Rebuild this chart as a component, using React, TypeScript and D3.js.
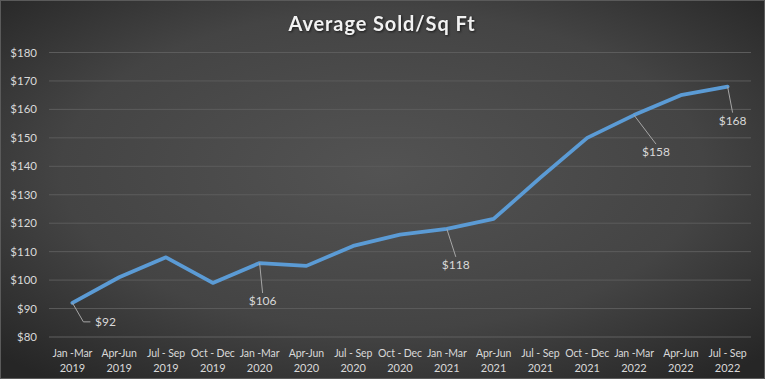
import React from "react";
import * as d3 from "d3";

const quarters = ["Jan -Mar", "Apr-Jun", "Jul - Sep", "Oct - Dec", "Jan -Mar", "Apr-Jun", "Jul - Sep", "Oct - Dec", "Jan -Mar", "Apr-Jun", "Jul - Sep", "Oct - Dec", "Jan -Mar", "Apr-Jun", "Jul - Sep"];
const years = ["2019", "2019", "2019", "2019", "2020", "2020", "2020", "2020", "2021", "2021", "2021", "2021", "2022", "2022", "2022"];
const values = [92, 101, 108, 99, 106, 105, 112, 116, 118, 121.5, 136, 150, 158, 165, 168];
const yTicks = [80, 90, 100, 110, 120, 130, 140, 150, 160, 170, 180];
const labeledIdx = [0, 4, 8, 12, 14];

// label placement (styling): offsets of label anchor from point
const labelOffsets: Record<number, [number, number]> = {
  0: [33, 19],
  4: [3, 38],
  8: [9, 36],
  12: [22, 37],
  14: [5, 34],
};

const W = 765;
const H = 379;
const left = 49;
const right = 751;
const top = 52.5;
const bottom = 337;

export default function App() {
  const x = d3.scaleBand<number>().domain(d3.range(values.length)).range([left, right]);
  const y = d3.scaleLinear().domain([80, 180]).range([bottom, top]);
  const cx = (i: number) => (x(i) as number) + x.bandwidth() / 2;
  const line = d3.line<number>().x((_, i) => cx(i)).y((d) => y(d));
  const font = "Lato, 'Open Sans', sans-serif";
  const txt = "#d9d9d9";

  return (
    <svg width={W} height={H} style={{ position: "absolute", left: 0, top: 0, display: "block" }} fontFamily={font}>
      <defs>
        <radialGradient id="bg" cx="50%" cy="45%" r="70%">
          <stop offset="0%" stopColor="#535353" />
          <stop offset="60%" stopColor="#444444" />
          <stop offset="100%" stopColor="#262626" />
        </radialGradient>
      </defs>
      <rect x={0} y={0} width={W} height={H} fill="url(#bg)" />
      <rect x={0.5} y={0.5} width={W - 1} height={H - 1} fill="none" stroke="#5a5a5a" strokeWidth={1} />
      <text x={382} y={31} textAnchor="middle" fill="#f2f2f2" fontSize={20} fontWeight={700} letterSpacing={0.9}
        style={{ filter: "drop-shadow(1px 1px 1px rgba(0,0,0,0.6))" }}>
        Average Sold/Sq Ft
      </text>
      {yTicks.map((t) => (
        <g key={t}>
          <line x1={left} x2={right} y1={y(t)} y2={y(t)} stroke={t === 80 ? "#606060" : "#5c5c5c"} strokeWidth={1} />
          <text x={37} y={y(t) + 4} textAnchor="end" fill={txt} fontSize={11.5}>
            ${t}
          </text>
        </g>
      ))}
      {quarters.map((q, i) => (
        <g key={i}>
          <text x={cx(i)} y={357} textAnchor="middle" fill={txt} fontSize={10.5} letterSpacing={-0.1}>
            {q}
          </text>
          <text x={cx(i)} y={372} textAnchor="middle" fill={txt} fontSize={11}>
            {years[i]}
          </text>
        </g>
      ))}
      <path d={line(values) || ""} fill="none" stroke="#5B9BD5" strokeWidth={3.8} strokeLinejoin="round" strokeLinecap="round" />
      {labeledIdx.map((i) => {
        const px = cx(i);
        const py = y(values[i]);
        const [dx, dy] = labelOffsets[i];
        const lx = px + dx;
        const ly = py + dy;
        let path: string;
        if (i === 0) {
          path = `M${px},${py} L${px + 11},${ly} L${px + 18},${ly}`;
        } else {
          path = `M${px},${py} L${lx},${ly - 8}`;
        }
        return (
          <g key={i}>
            <path d={path} fill="none" stroke="#a6a6a6" strokeWidth={1} />
            <text x={lx} y={ly + 4} textAnchor="middle" fill={txt} fontSize={12}>
              ${Math.round(values[i])}
            </text>
          </g>
        );
      })}
    </svg>
  );
}
